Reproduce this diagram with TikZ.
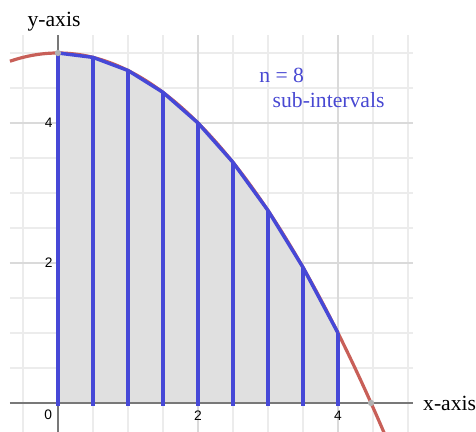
\documentclass[tikz,border=0pt]{standalone}
\usepackage{fontspec}
\setmainfont{Liberation Serif}
\newfontfamily\ticksf{Liberation Sans}
\definecolor{gridminor}{RGB}{236,236,236}
\definecolor{gridmajor}{RGB}{218,218,218}
\definecolor{axisgray}{RGB}{120,120,120}
\definecolor{curvered}{RGB}{200,95,88}
\definecolor{stripblue}{RGB}{70,72,215}
\definecolor{textblue}{RGB}{72,72,210}
\definecolor{areagray}{RGB}{224,224,224}
\tikzset{
  minorgrid/.style={draw=gridminor, line width=0.5pt},
  majorgrid/.style={draw=gridmajor, line width=0.6pt},
  axisline/.style={draw=axisgray, line width=0.7pt},
  curve/.style={draw=curvered, line width=1.3pt},
  strip/.style={draw=stripblue, line width=1.4pt},
  ticklabel/.style={font=\ticksf\fontsize{5.6}{6}\selectfont, inner sep=0pt},
  axislabel/.style={font=\fontsize{8.8}{10}\selectfont, inner sep=0pt},
  bluelabel/.style={font=\fontsize{8.8}{10}\selectfont, text=textblue, inner sep=0pt},
  dot/.style={fill=gray!60, draw=none}
}
\begin{document}
\begin{tikzpicture}[x=1cm,y=1cm]
\useasboundingbox (-0.8286,-0.4143) rectangle (5.9714,5.7571);
% grid
\foreach \xx in {-0.5,0.5,1,1.5,2.5,3,3.5,4.5,5}
  \draw[minorgrid] (\xx,-0.4143) -- (\xx,5.257);
\foreach \yy in {0.5,1,1.5,2.5,3,3.5,4.5,5}
  \draw[minorgrid] (-0.686,\yy) -- (5.07,\yy);
\foreach \xx in {2,4}
  \draw[majorgrid] (\xx,-0.4143) -- (\xx,5.257);
\foreach \yy in {2,4}
  \draw[majorgrid] (-0.686,\yy) -- (5.07,\yy);
% shaded trapezoids
\fill[areagray] (0,0) -- (0,5) -- (0.5,4.9375) -- (1,4.75) -- (1.5,4.4375) -- (2,4) -- (2.5,3.4375) -- (3,2.75) -- (3.5,1.9375) -- (4,1) -- (4,0) -- cycle;
% axes
\draw[axisline] (-0.686,0) -- (5.07,0);
\draw[axisline] (0,5.257) -- (0,-0.4143);
% curve
\draw[curve] plot[domain=-0.686:4.66, samples=80, smooth] (\x,{5-\x*\x/4});
% strips
\foreach \xx/\yy in {0/5,0.5/4.9375,1/4.75,1.5/4.4375,2/4,2.5/3.4375,3/2.75,3.5/1.9375,4/1}
  \draw[strip] (\xx,-0.04) -- (\xx,\yy);
\draw[strip, line join=round] (0,5) -- (0.5,4.9375) -- (1,4.75) -- (1.5,4.4375) -- (2,4) -- (2.5,3.4375) -- (3,2.75) -- (3.5,1.9375) -- (4,1);
% dots
\fill[dot] (0,5) circle (0.045);
\fill[dot] (4.4721,0) circle (0.045);
% labels
\node[axislabel] (ylab) at (-0.057,5.443) {y-axis};
\node[axislabel, anchor=west] (xlab) at (5.21,0) {x-axis};
\node[ticklabel] (t0) at (-0.14,-0.17) {0};
\node[ticklabel] (t2) at (2,-0.18) {2};
\node[ticklabel] (t4) at (4,-0.18) {4};
\node[ticklabel, anchor=east] (ty4) at (-0.07,4) {4};
\node[ticklabel, anchor=east] (ty2) at (-0.07,2) {2};
\node[bluelabel, anchor=west] (nlab) at (2.87,4.686) {n = 8};
\node[bluelabel, anchor=west] (slab) at (3.06,4.329) {sub-intervals};
\end{tikzpicture}
\end{document}
